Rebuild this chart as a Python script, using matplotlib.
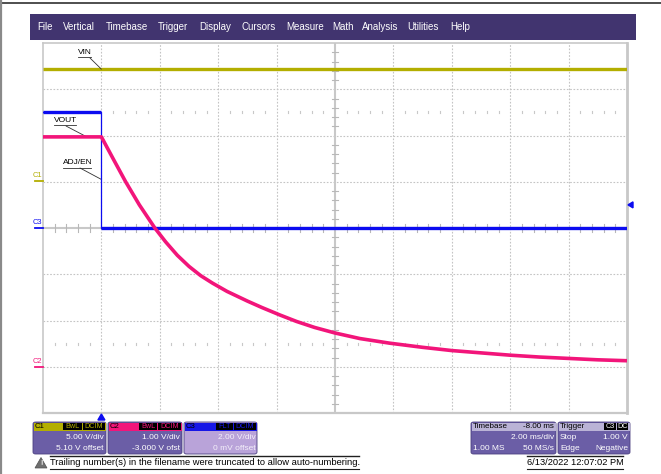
import matplotlib
matplotlib.use("Agg")
import matplotlib.pyplot as plt
from matplotlib.patches import FancyBboxPatch, Rectangle, Polygon
from matplotlib.lines import Line2D

# ---------------- acquisition data ----------------
# time axis (ms): 2 ms/div, 10 divisions, trigger delay -8 ms
t_left, t_right = -2.0, 18.0

# channel settings: V/div and offset (V)
c1_vdiv, c1_offset = 5.0, 5.10     # VIN
c2_vdiv, c2_offset = 1.0, -3.0     # VOUT
c3_vdiv, c3_offset = 2.0, 0.0      # ADJ/EN

# VIN (C1)
vin_t = [-2.0, 18.0]
vin_v = [12.07, 12.07]

# ADJ/EN (C3)
adj_t = [-2.0, 0.0, 0.0, 18.0]
adj_v = [5.0, 5.0, 0.0, 0.0]

# VOUT (C2)
vout_t = [-2.0, 0.0, 0.4, 0.83, 1.3, 1.83, 2.2, 2.6, 3.0, 3.4, 3.8, 4.3, 5.0,
          5.5, 6.11, 6.68, 7.3, 8.0, 8.85, 9.87, 11.0, 12.0, 13.0, 14.0, 15.0,
          16.0, 17.0, 18.0]
vout_v = [4.97, 4.97, 4.50, 4.00, 3.50, 3.00, 2.70, 2.41, 2.17, 1.97, 1.81, 1.63, 1.42,
          1.28, 1.12, 0.98, 0.85, 0.73, 0.61, 0.51, 0.42, 0.35, 0.30, 0.25, 0.21,
          0.18, 0.15, 0.13]

trigger_t = 0.0
trigger_level = 1.0  # V on C3

menu_items = ["File", "Vertical", "Timebase", "Trigger", "Display", "Cursors",
              "Measure", "Math", "Analysis", "Utilities", "Help"]
menu_x = [37, 63, 106, 158, 199, 241, 286, 332, 362, 407, 450]

# ---------------- colours ----------------
COL_C1 = "#b3ae00"
COL_C2 = "#f2157a"
COL_C3 = "#0c0cf0"
MENU_BG = "#41346f"
PANEL_BG = "#6b5ea6"
PANEL_HDR = "#bab3d6"
GRID = "#c4c4c4"
FONT = "Liberation Sans"

W, H = 661, 474
fig = plt.figure(figsize=(W / 100, H / 100), dpi=100)
fig.patch.set_facecolor("white")


def fx(x):
    return x / W


def fy(y):
    return 1 - y / H


def ftext(x, y, s, **kw):
    kw.setdefault("family", FONT)
    kw.setdefault("va", "center")
    fig.text(fx(x), fy(y), s, **kw)


def frect(x0, y0, x1, y1, color, **kw):
    fig.patches.append(Rectangle((fx(x0), fy(y1)), fx(x1) - fx(x0), fy(y0) - fy(y1),
                                 transform=fig.transFigure, facecolor=color,
                                 edgecolor="none", **kw))


def fline(xs, ys, color, lw=1.0, **kw):
    fig.lines.append(Line2D([fx(x) for x in xs], [fy(y) for y in ys],
                            transform=fig.transFigure, color=color, lw=lw, **kw))


# outer frame of the screen capture
fline([0, W], [2.5, 2.5], "#303030", lw=1.2)
fline([1, 1], [0, H], "#8a8a8a", lw=1.6)

# menu bar
frect(30, 14, 636, 40, MENU_BG)
for s, x in zip(menu_items, menu_x):
    ftext(x, 27, s, color="white", fontsize=7.0)

# ---------------- graticule ----------------
gl, gr, gt, gb = 43, 627, 43, 413
ax = fig.add_axes([fx(gl), fy(gb), fx(gr) - fx(gl), fy(gt) - fy(gb)])
ax.set_xlim(t_left, t_right)
ax.set_ylim(-4, 4)
ax.set_facecolor("white")
for sp in ax.spines.values():
    sp.set_color("#c8c8c8")
    sp.set_linewidth(1.2)
ax.spines["right"].set_linewidth(2.0)
ax.spines["bottom"].set_linewidth(1.6)
ax.set_xticks([])
ax.set_yticks([])

t_div = (t_right - t_left) / 10
t_mid = (t_left + t_right) / 2
for k in range(1, 10):
    if k == 5:
        continue
    ax.axvline(t_left + k * t_div, color=GRID, lw=0.8, ls=(0, (1.5, 1.5)), zorder=1)
for k in range(-3, 4):
    if k == 0:
        continue
    ax.axhline(k, color=GRID, lw=0.8, ls=(0, (1.5, 1.5)), zorder=1)

# centre axes with minor ticks
ax.axvline(t_mid, color="#c8c8c8", lw=1.5, zorder=1)
ax.axhline(0, color="#c8c8c8", lw=1.5, zorder=1)
for i in range(-20, 21):
    yy = i * 0.2
    if i % 5:
        ax.plot([t_mid - 0.09, t_mid + 0.09], [yy, yy], color="#b8b8b8", lw=0.8, zorder=1)
for i in range(-25, 26):
    xx = t_mid + i * 0.2 * t_div
    if i % 5:
        ax.plot([xx, xx], [-0.08, 0.08], color="#b8b8b8", lw=0.8, zorder=1)
# quarter marker rows
for yy in (2.5, -2.5):
    for i in range(1, 50):
        if i % 5 == 0:
            continue
        xx = t_left + i * 0.2 * t_div
        ax.plot([xx, xx], [yy - 0.02, yy + 0.02], color="#c8c8c8", lw=0.8, zorder=1)


def to_div(vals, vdiv, off):
    return [(v + off) / vdiv for v in vals]


# traces
ax.plot(vin_t, to_div(vin_v, c1_vdiv, c1_offset), color=COL_C1, lw=2.4,
        solid_capstyle="butt", zorder=3)
adj_d = to_div(adj_v, c3_vdiv, c3_offset)
ax.plot(adj_t, adj_d, color=COL_C3, lw=0.9, zorder=4)
ax.plot(adj_t[:2], adj_d[:2], color=COL_C3, lw=2.4, solid_capstyle="butt", zorder=4)
ax.plot(adj_t[2:], adj_d[2:], color=COL_C3, lw=2.4, solid_capstyle="butt", zorder=4)
ax.plot(vout_t, to_div(vout_v, c2_vdiv, c2_offset), color=COL_C2, lw=2.6,
        solid_capstyle="butt", solid_joinstyle="round", zorder=5)


# labels with leader lines
def tag(text, tx, ty, px, py, xy):
    ftext(tx, ty, text, fontsize=6.0, color="black", ha="left")
    ax.annotate("", xy=xy, xycoords="data",
                xytext=(fx(px), fy(py)), textcoords="figure fraction",
                arrowprops=dict(arrowstyle="-", color="#303030", lw=0.6,
                                shrinkA=0, shrinkB=0))


tag("VIN", 78, 52.5, 90, 58, (trigger_t, to_div([vin_v[0]], c1_vdiv, c1_offset)[0]))
tag("VOUT", 54, 121, 66, 126, (-0.5, to_div([vout_v[0]], c2_vdiv, c2_offset)[0]))
tag("ADJ/EN", 63, 163, 80, 168, (trigger_t, 1.05))
for tx0, tx1, ty in ((78, 91, 57), (54, 76, 125.5), (63, 91, 167.5)):
    fline([tx0, tx1], [ty, ty], "#303030", lw=0.6)

# channel ground markers
for name, col, off, vdiv in (("C1", COL_C1, c1_offset, c1_vdiv),
                             ("C3", COL_C3, c3_offset, c3_vdiv),
                             ("C2", COL_C2, c2_offset, c2_vdiv)):
    ypix = (gt + gb) / 2 - (off / vdiv) * (gb - gt) / 8
    ftext(37.5, ypix - 5.5, name, color=col, fontsize=5.4, ha="center")
    fline([35, 42.5], [ypix, ypix], col, lw=1.3)

# trigger markers
trig_y = (gt + gb) / 2 - (trigger_level / c3_vdiv) * (gb - gt) / 8
fig.patches.append(Polygon([(fx(628), fy(trig_y)), (fx(633), fy(trig_y - 3)),
                            (fx(633), fy(trig_y + 3))], closed=True,
                           transform=fig.transFigure, color=COL_C3))
trig_x = gl + (trigger_t - t_left) / (t_right - t_left) * (gr - gl)
fig.patches.append(Polygon([(fx(trig_x), fy(414)), (fx(trig_x - 3.5), fy(420)),
                            (fx(trig_x + 3.5), fy(420))], closed=True,
                           transform=fig.transFigure, color=COL_C3))


# ---------------- info panels ----------------
def panel(x0, x1, hdr_col, body_col):
    fig.patches.append(FancyBboxPatch((fx(x0), fy(454)), fx(x1) - fx(x0), fy(422) - fy(454),
                                      boxstyle="round,pad=0,rounding_size=0.004",
                                      transform=fig.transFigure, facecolor=body_col,
                                      edgecolor="#4a3f80", lw=0.6))
    frect(x0 + 0.5, 422.5, x1 - 0.5, 430.5, hdr_col)


def badge(x0, x1, text, col):
    frect(x0, 423.3, x1, 429.8, "black")
    ftext((x0 + x1) / 2, 426.6, text, color=col, fontsize=5.2, ha="center")


panel(33, 106, COL_C1, PANEL_BG)
ftext(35, 426.5, "C1", color="black", fontsize=5.6)
badge(63, 82, "BwL", COL_C1)
badge(83, 105, "DCIM", COL_C1)
ftext(104, 437.5, "5.00 V/div", color="white", fontsize=6.0, ha="right")
ftext(104, 448, "5.10 V offset", color="white", fontsize=6.0, ha="right")

panel(108, 182, COL_C2, PANEL_BG)
ftext(110, 426.5, "C2", color="black", fontsize=5.6)
badge(139, 157, "BwL", COL_C2)
badge(158, 181, "DCIM", COL_C2)
ftext(180, 437.5, "1.00 V/div", color="white", fontsize=6.0, ha="right")
ftext(180, 448, "-3.000 V ofst", color="white", fontsize=6.0, ha="right")

panel(184, 257, "#1616e6", "#b9a3d9")
ftext(186, 426.5, "C3", color="black", fontsize=5.6)
badge(216, 233, "FLT", "#1616e6")
badge(234, 256, "DCIM", "#1616e6")
ftext(256, 437.5, "2.00 V/div", color="#f4f0fa", fontsize=6.0, ha="right")
ftext(256, 448, "0 mV offset", color="#f4f0fa", fontsize=6.0, ha="right")

panel(471, 556, PANEL_HDR, PANEL_BG)
ftext(473, 426.5, "Timebase", color="black", fontsize=5.8)
ftext(554, 426.5, "-8.00 ms", color="black", fontsize=5.8, ha="right")
ftext(554, 437.5, "2.00 ms/div", color="white", fontsize=6.0, ha="right")
ftext(473, 448, "1.00 MS", color="white", fontsize=6.0)
ftext(554, 448, "50 MS/s", color="white", fontsize=6.0, ha="right")

panel(558, 630, PANEL_HDR, PANEL_BG)
ftext(560, 426.5, "Trigger", color="black", fontsize=5.8)
badge(604, 615.5, "C3", "white")
badge(616.5, 628, "DC", "white")
ftext(560, 437.5, "Stop", color="white", fontsize=6.0)
ftext(628, 437.5, "1.00 V", color="white", fontsize=6.0, ha="right")
ftext(560, 448, "Edge", color="white", fontsize=6.0)
ftext(628, 448, "Negative", color="white", fontsize=6.0, ha="right")

# ---------------- status line ----------------
fig.patches.append(Polygon([(fx(41), fy(457.5)), (fx(35), fy(468)), (fx(47), fy(468))],
                           closed=True, transform=fig.transFigure,
                           facecolor="#6e6e6e", edgecolor="#505050", lw=0.5))
ftext(41, 463.8, "!", color="white", fontsize=5.0, ha="center", weight="bold")
ftext(50, 462.5, "Trailing number(s) in the filename were truncated to allow auto-numbering.",
      color="black", fontsize=6.75)
fline([50, 359], [455.7, 455.7], "#202020", lw=1.0)
fline([50, 359], [468.7, 468.7], "#202020", lw=0.8)
ftext(527, 462.5, "6/13/2022 12:07:02 PM", color="black", fontsize=6.7)
fline([527, 623], [455.7, 455.7], "#202020", lw=1.0)
fline([527, 623], [468.7, 468.7], "#202020", lw=0.8)

fig.savefig("out.png", dpi=100)
